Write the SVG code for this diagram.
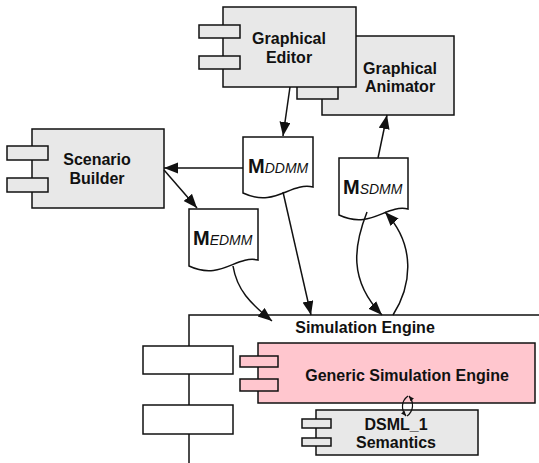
<svg xmlns="http://www.w3.org/2000/svg" width="539" height="463" viewBox="0 0 539 463">
<defs>
<marker id="ah" markerUnits="userSpaceOnUse" markerWidth="15" markerHeight="12" refX="14" refY="5.5" orient="auto">
<path d="M0,0 L14,5.5 L0,11 Z" fill="#111"/>
</marker>
<marker id="ahs" markerUnits="userSpaceOnUse" markerWidth="6" markerHeight="5" refX="5" refY="2.25" orient="auto">
<path d="M0,0 L5,2.25 L0,4.5 Z" fill="#111"/>
</marker>
</defs>
<style>
.box{fill:#e8e8e8;stroke:#111;stroke-width:1.5}
.pink{fill:#ffc6ce;stroke:#111;stroke-width:1.5}
.wport{fill:#fff;stroke:#111;stroke-width:1.5}
.doc{fill:#fff;stroke:#111;stroke-width:1.5}
.lbl{font-family:"Liberation Sans",Arial,Helvetica,sans-serif;font-weight:bold;font-size:16px;fill:#111;text-anchor:middle}
.mm{font-family:"Liberation Sans",Arial,Helvetica,sans-serif;fill:#111}
.mb{font-weight:bold;font-size:20px}
.ms{font-style:italic;font-size:14px}
.cn{fill:none;stroke:#111;stroke-width:1.5;marker-end:url(#ah)}
.cs{fill:none;stroke:#111;stroke-width:1.2;marker-end:url(#ahs)}
.ln{fill:none;stroke:#111;stroke-width:1.5}
</style>

<g id="simulation-engine">
<path class="ln" d="M539,315 H189 V463"/>
<rect class="wport" x="143" y="346" width="90" height="28"/>
<rect class="wport" x="143" y="405" width="90" height="29"/>
<text class="lbl" x="365" y="333">Simulation Engine</text>
</g>

<g id="generic-simulation-engine">
<rect class="pink" x="258" y="343" width="277" height="60"/>
<rect class="pink" x="240" y="356" width="38" height="11"/>
<rect class="pink" x="240" y="379" width="38" height="12"/>
<text class="lbl" x="407" y="381">Generic Simulation Engine</text>
</g>

<g id="dsml1-semantics">
<rect class="box" x="316" y="410" width="162" height="45"/>
<rect class="box" x="302" y="419" width="29" height="9"/>
<rect class="box" x="302" y="438" width="29" height="8"/>
<text class="lbl" x="396" y="430">DSML_1</text>
<text class="lbl" x="396" y="448">Semantics</text>
</g>

<g id="graphical-animator">
<rect class="box" x="322" y="36" width="132" height="79"/>
<rect class="box" x="297" y="54" width="41" height="13"/>
<rect class="box" x="297" y="86" width="41" height="13"/>
<text class="lbl" x="400" y="74">Graphical</text>
<text class="lbl" x="400" y="92">Animator</text>
</g>

<g id="graphical-editor">
<rect class="box" x="223" y="7" width="133" height="80"/>
<rect class="box" x="199" y="25" width="41" height="13"/>
<rect class="box" x="199" y="56" width="41" height="13"/>
<text class="lbl" x="289" y="44">Graphical</text>
<text class="lbl" x="289" y="63">Editor</text>
</g>

<g id="scenario-builder">
<rect class="box" x="32" y="129" width="132" height="79"/>
<rect class="box" x="7" y="146" width="41" height="14"/>
<rect class="box" x="7" y="178" width="41" height="14"/>
<text class="lbl" x="97" y="165">Scenario</text>
<text class="lbl" x="97" y="184">Builder</text>
</g>

<g id="m-ddmm">
<path class="doc" d="M243,137 H313 V187 C290,182 275,208 243,193 Z"/>
<text class="mm" x="248" y="173"><tspan class="mb">M</tspan><tspan class="ms">DDMM</tspan></text>
</g>

<g id="m-sdmm">
<path class="doc" d="M339,158 H408 V209 C386,204 371,230 339,215 Z"/>
<text class="mm" x="343" y="194"><tspan class="mb">M</tspan><tspan class="ms">SDMM</tspan></text>
</g>

<g id="m-edmm">
<path class="doc" d="M189,209 H258 V260 C236,255 221,281 189,266 Z"/>
<text class="mm" x="193" y="245"><tspan class="mb">M</tspan><tspan class="ms">EDMM</tspan></text>
</g>

<g id="connectors">
<path class="cn" d="M290,87 L283,136"/>
<path class="cn" d="M378,158 L387,115"/>
<path class="cn" d="M243,168 L164,168"/>
<path class="cn" d="M164,170 L197,208"/>
<path class="cn" d="M233,266 C237,290 250,303 272,321"/>
<path class="cn" d="M283,192 L311,315"/>
<path class="cn" d="M367,212 C354,245 348,280 382,315"/>
<path class="cn" d="M393,315 C412,285 416,245 385,212"/>
<path class="cs" d="M408,396 C401,401 401,410 406,416"/>
<path class="cs" d="M407,416 C414,411 414,402 409,396"/>
</g>
</svg>
